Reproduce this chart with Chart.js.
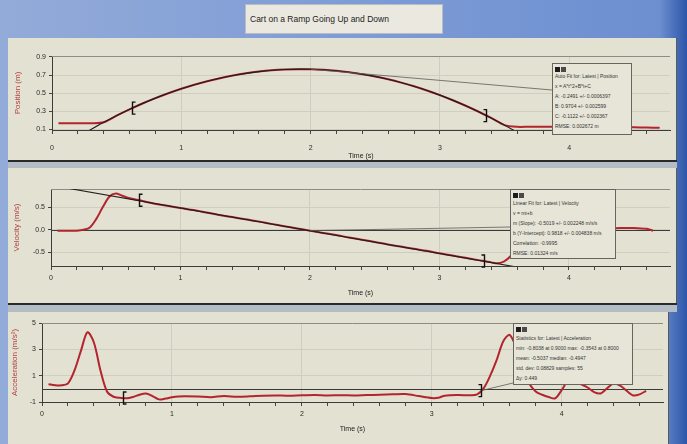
<!DOCTYPE html>
<html>
<head>
<meta charset="utf-8">
<script src="https://cdn.jsdelivr.net/npm/chart.js@4.4.1/dist/chart.umd.min.js"></script>
<style>
  body { margin: 0; width: 687px; height: 444px; overflow: hidden; position: relative;
         background: linear-gradient(90deg, #93abd8 0%, #7e9cd6 50%, #6d8fd0 96%, #2d56a8 100%);
         font-family: "Liberation Sans", Arial, sans-serif; }
  .title { position: absolute; left: 245px; top: 4px; width: 198px; height: 30px; box-sizing: border-box;
           background: #ebe9df; border: 1px solid #b9bcc4; font-size: 8.5px; color: #222;
           padding-left: 4px; line-height: 28px; white-space: nowrap; }
  .panel { position: absolute; left: 8px; background: #e3e1d1; border-right: 1px solid #5a5a58; }
  .panel canvas { position: absolute; left: 0; top: 0; }
  .rule { position: absolute; left: 8px; height: 2px; background: #2a2a2a; }
  .gap { position: absolute; left: 8px; background: #b4bcc6; }
  .box { position: absolute; box-sizing: border-box; background: #e7e5d8; border: 1px solid #66665f;
         font-size: 5px; line-height: 10px; color: #333; padding-left: 2px; white-space: nowrap; z-index: 5; }
  .box .ic { position: absolute; left: 2px; top: 1px; }
  .box .ic i, .box .ic b { display: inline-block; width: 5px; height: 5px; margin-right: 1px; }
  .box .ic i { background: #1c1c1c; }
  .box .ic b { background: #4a4a4a; }
</style>
</head>
<body>
<div class="title">Cart on a Ramp Going Up and Down</div>

<div class="panel" style="top:38px;width:668px;height:122px"><canvas id="posChart" width="668" height="122"></canvas></div>
<div class="rule" style="top:160px;width:669px"></div>
<div class="gap" style="top:162px;height:6px;width:669px"></div>

<div class="panel" style="top:168px;width:668px;height:135px"><canvas id="velChart" width="668" height="135"></canvas></div>
<div class="rule" style="top:303px;width:669px"></div>
<div class="gap" style="top:305px;height:7px;width:669px"></div>

<div class="panel" style="top:312px;width:660px;height:132px"><canvas id="accChart" width="660" height="132"></canvas></div>

<div class="box" id="fitPos" style="left:552px;top:63px;width:80px;height:72px;padding-top:7px">
  <div class="ic"><i></i><b></b></div>
  <div>Auto Fit for: Latest | Position</div>
  <div>x = A*t^2+B*t+C</div>
  <div>A: -0.2491 +/- 0.0006397</div>
  <div>B: 0.9704 +/- 0.002599</div>
  <div>C: -0.1122 +/- 0.002367</div>
  <div>RMSE: 0.002672 m</div>
</div>

<div class="box" id="fitVel" style="left:510px;top:189px;width:106px;height:70px;padding-top:8px">
  <div class="ic"><i></i><b></b></div>
  <div>Linear Fit for: Latest | Velocity</div>
  <div>v = mt+b</div>
  <div>m (Slope): -0.5019 +/- 0.002248 m/s/s</div>
  <div>b (Y-Intercept): 0.9818 +/- 0.004838 m/s</div>
  <div>Correlation: -0.9995</div>
  <div>RMSE: 0.01324 m/s</div>
</div>

<div class="box" id="statAcc" style="left:513px;top:323px;width:120px;height:62px;padding-top:9px">
  <div class="ic"><i></i><b></b></div>
  <div>Statistics for: Latest | Acceleration</div>
  <div>min: -0.8038 at 0.9000 max: -0.3543 at 0.8000</div>
  <div>mean: -0.5037 median: -0.4947</div>
  <div>std. dev: 0.08829 samples: 55</div>
  <div>Δy: 0.449</div>
</div>

<script>
// time axis: minor ticks every 0.2 s, labels on whole seconds
const timeTicks = [0, 0.2, 0.4, 0.6, 0.8, 1, 1.2, 1.4, 1.6, 1.8, 2, 2.2, 2.4, 2.6, 2.8, 3, 3.2, 3.4, 3.6, 3.8, 4, 4.2, 4.4, 4.6];
const timeLabels = [0, 1, 2, 3, 4];

// Position (m)
const posTime = [0.05, 0.1, 0.2, 0.3, 0.4, 0.5, 0.6, 0.7, 0.8, 0.9, 1.0, 1.1, 1.2, 1.3, 1.4, 1.5, 1.6, 1.7, 1.8, 1.9,
                 2.0, 2.1, 2.2, 2.3, 2.4, 2.5, 2.6, 2.7, 2.8, 2.9, 3.0, 3.1, 3.2, 3.3, 3.4, 3.5, 3.6, 3.7, 3.8, 3.9,
                 4.0, 4.1, 4.2, 4.3, 4.4, 4.5, 4.6, 4.7];
const posValue = [0.17, 0.17, 0.17, 0.17, 0.18, 0.254, 0.323, 0.387, 0.446, 0.500, 0.549, 0.593, 0.632, 0.666, 0.695, 0.719, 0.738, 0.752, 0.761, 0.765,
                  0.764, 0.758, 0.747, 0.731, 0.710, 0.684, 0.653, 0.617, 0.576, 0.530, 0.479, 0.423, 0.362, 0.296, 0.225, 0.149, 0.13, 0.132, 0.13, 0.131,
                  0.13, 0.129, 0.13, 0.128, 0.127, 0.125, 0.122, 0.12];
const posFitTime = [0.2, 0.4, 0.6, 0.8, 1.0, 1.2, 1.4, 1.6, 1.8, 2.0, 2.2, 2.4, 2.6, 2.8, 3.0, 3.2, 3.4, 3.6, 3.8];
const posFitValue = [0.017, 0.18, 0.323, 0.446, 0.549, 0.632, 0.695, 0.738, 0.761, 0.764, 0.747, 0.710, 0.653, 0.576, 0.479, 0.362, 0.225, 0.068, -0.109];
const posTicks = [0.1, 0.3, 0.5, 0.7, 0.9];
const posFitRange = [0.62, 3.36];

// Velocity (m/s)
const velTime = [0.05, 0.1, 0.15, 0.2, 0.25, 0.3, 0.35, 0.4, 0.45, 0.5, 0.55, 0.6, 0.7, 0.8, 0.9, 1.0, 1.1, 1.2, 1.3, 1.4,
                 1.5, 1.6, 1.7, 1.8, 1.9, 2.0, 2.1, 2.2, 2.3, 2.4, 2.5, 2.6, 2.7, 2.8, 2.9, 3.0, 3.1, 3.2, 3.3, 3.4,
                 3.45, 3.5, 3.55, 3.6, 3.7, 3.8, 3.9, 4.0, 4.1, 4.2, 4.3, 4.4, 4.5, 4.6, 4.65];
const velValue = [-0.02, -0.02, -0.02, -0.02, 0.0, 0.05, 0.24, 0.50, 0.73, 0.80, 0.75, 0.70, 0.64, 0.575, 0.53, 0.48, 0.435, 0.38, 0.325, 0.28,
                  0.23, 0.185, 0.13, 0.08, 0.03, -0.02, -0.07, -0.115, -0.17, -0.22, -0.27, -0.325, -0.37, -0.42, -0.465, -0.52, -0.57, -0.62, -0.67, -0.72,
                  -0.74, -0.70, -0.58, -0.40, -0.10, 0.01, 0.02, 0.03, 0.02, 0.03, 0.03, 0.04, 0.04, 0.02, -0.02];
const velFitTime = [0, 4.78];
const velFitValue = [0.9818, -1.4173];
const velTicks = [-0.5, 0, 0.5];
const velFitRange = [0.68, 3.34];

// Acceleration (m/s²)
const accTime = [0.05, 0.1, 0.15, 0.2, 0.25, 0.3, 0.35, 0.4, 0.45, 0.5, 0.55, 0.6, 0.65, 0.7, 0.75, 0.8, 0.85, 0.9, 0.95, 1.0,
                 1.05, 1.1, 1.2, 1.3, 1.4, 1.5, 1.6, 1.7, 1.8, 1.9, 2.0, 2.1, 2.2, 2.3, 2.4, 2.5, 2.6, 2.7, 2.8, 2.9,
                 3.0, 3.05, 3.1, 3.2, 3.3, 3.35, 3.4, 3.45, 3.5, 3.55, 3.6, 3.65, 3.7, 3.75, 3.8, 3.85, 3.9, 3.95, 4.0, 4.05,
                 4.1, 4.15, 4.2, 4.25, 4.3, 4.35, 4.4, 4.45, 4.5, 4.55, 4.6, 4.65];
const accValue = [0.35, 0.28, 0.27, 0.42, 1.4, 2.9, 4.3, 3.5, 1.4, -0.2, -0.6, -0.68, -0.72, -0.62, -0.45, -0.36, -0.55, -0.8, -0.74, -0.64,
                  -0.58, -0.56, -0.58, -0.63, -0.55, -0.6, -0.57, -0.52, -0.5, -0.53, -0.49, -0.47, -0.5, -0.48, -0.5, -0.47, -0.45, -0.42, -0.4, -0.55,
                  -0.7, -0.68, -0.52, -0.47, -0.49, -0.42, 0.05, 1.0, 2.2, 3.6, 4.1, 3.1, 1.6, 0.4, -0.2, -0.45, -0.62, -0.72, -0.1, 0.6,
                  0.5, 0.35, 0.1, -0.25, -0.35, 0.05, 0.4, 0.25, -0.15, -0.5, -0.42, -0.15];
const accTicks = [-1, 1, 3, 5];
const accStatRange = [0.62, 3.38];

const RED = '#b3242e';
Chart.defaults.font.family = '"Liberation Sans", Arial, sans-serif';
Chart.defaults.color = '#2a2a2a';

function pairs(xs, ys) {
  return xs.map((x, i) => ({ x: x, y: ys[i] }));
}

// value of a series at time t (used to hang brackets / leader lines on the curve)
function valueAt(xs, ys, t) {
  for (let i = 1; i < xs.length; i++) {
    if (xs[i] >= t) {
      const f = (t - xs[i - 1]) / (xs[i] - xs[i - 1]);
      return ys[i - 1] + f * (ys[i] - ys[i - 1]);
    }
  }
  return ys[ys.length - 1];
}

// plot frame, zero line, region brackets and the leader line to the info box
const decor = {
  id: 'decor',
  beforeDatasetsDraw(chart, args, o) {
    const { ctx, chartArea: a, scales } = chart;
    ctx.save();
    ctx.strokeStyle = '#8e8c82';
    ctx.lineWidth = 1;
    ctx.beginPath();
    ctx.moveTo(a.left, a.top + 0.5);
    ctx.lineTo(a.right, a.top + 0.5);
    ctx.stroke();
    if (o.zeroLine) {
      const zy = Math.round(scales.y.getPixelForValue(0)) + 0.5;
      ctx.strokeStyle = '#3a3a3a';
      ctx.lineWidth = 1.2;
      ctx.beginPath();
      ctx.moveTo(a.left, zy);
      ctx.lineTo(a.right, zy);
      ctx.stroke();
    }
    ctx.restore();
  },
  afterDatasetsDraw(chart, args, o) {
    const { ctx, scales: { x, y } } = chart;
    ctx.save();
    if (o.leader) {
      const box = document.getElementById(o.leader.box).getBoundingClientRect();
      const c = chart.canvas.getBoundingClientRect();
      ctx.strokeStyle = '#5c5c58';
      ctx.lineWidth = 0.8;
      ctx.beginPath();
      ctx.moveTo(x.getPixelForValue(o.leader.t), y.getPixelForValue(valueAt(o.xs, o.ys, o.leader.t)));
      ctx.lineTo(box.left - c.left, box.top - c.top + o.leader.dy);
      ctx.stroke();
    }
    ctx.strokeStyle = '#111';
    ctx.lineWidth = 1.4;
    o.brackets.forEach((t, i) => {
      const px = Math.round(x.getPixelForValue(t)) + 0.5;
      const py = y.getPixelForValue(valueAt(o.xs, o.ys, t));
      const d = i === 0 ? 3 : -3;
      ctx.beginPath();
      ctx.moveTo(px + d, py - 6);
      ctx.lineTo(px, py - 6);
      ctx.lineTo(px, py + 6);
      ctx.lineTo(px + d, py + 6);
      ctx.stroke();
    });
    ctx.restore();
  }
};

function makeChart(id, p) {
  const datasets = [{
    data: pairs(p.xs, p.ys),
    borderColor: RED,
    borderWidth: 2,
    tension: 0.3,
    order: 1
  }];
  if (p.fitX) {
    datasets.push({
      data: pairs(p.fitX, p.fitY),
      borderColor: '#1e1e1e',
      borderWidth: 1.1,
      tension: p.fitTension,
      order: 0
    });
  }
  return new Chart(document.getElementById(id), {
    type: 'line',
    data: { datasets: datasets },
    options: {
      responsive: false,
      animation: false,
      events: [],
      layout: { padding: { top: p.top, right: p.right, left: 0, bottom: 0 } },
      elements: { point: { radius: 0 } },
      plugins: {
        legend: { display: false },
        tooltip: { enabled: false },
        decor: { xs: p.xs, ys: p.ys, brackets: p.brackets, zeroLine: p.zeroLine, leader: p.leader }
      },
      scales: {
        x: {
          type: 'linear', min: 0, max: 4.78,
          afterBuildTicks: s => { s.ticks = timeTicks.map(v => ({ value: v })); },
          afterFit: s => { s.height = p.xH; },
          border: { color: '#3c3c3c', width: 1 },
          grid: {
            color: c => timeLabels.includes(c.tick.value) ? '#cfcdc0' : 'rgba(0,0,0,0)',
            tickColor: '#444', tickLength: 4
          },
          ticks: {
            autoSkip: false, maxRotation: 0, padding: p.xPad, font: { size: 7 },
            callback: v => timeLabels.includes(v) ? String(v) : ''
          },
          title: { display: true, text: 'Time (s)', font: { size: 7 }, color: '#222', padding: { top: 0, bottom: p.titlePad } }
        },
        y: {
          type: 'linear', min: p.min, max: p.max,
          afterBuildTicks: s => { s.ticks = p.yTicks.map(v => ({ value: v })); },
          afterFit: s => { s.width = p.yW; },
          border: { color: '#3c3c3c', width: 1 },
          grid: { color: '#d0cec1', tickColor: '#444', tickLength: 3 },
          ticks: { padding: 3, font: { size: 7 }, callback: p.fmt },
          title: { display: true, text: p.yTitle, font: { size: 8 }, color: '#b34040', padding: { top: p.yTitlePad, bottom: 0 } }
        }
      }
    },
    plugins: [decor]
  });
}

makeChart('posChart', {
  xs: posTime, ys: posValue, fitX: posFitTime, fitY: posFitValue, fitTension: 0.3,
  min: 0.095, max: 0.91, yTicks: posTicks, fmt: v => v.toFixed(1),
  yTitle: 'Position (m)', yTitlePad: 5, yW: 44, xH: 30, top: 18, right: 6, xPad: 10, titlePad: 0,
  brackets: posFitRange, zeroLine: false,
  leader: { box: 'fitPos', t: 2.0, dy: 27 }
});

makeChart('velChart', {
  xs: velTime, ys: velValue, fitX: velFitTime, fitY: velFitValue, fitTension: 0,
  min: -0.8, max: 0.9, yTicks: velTicks, fmt: v => v.toFixed(1),
  yTitle: 'Velocity (m/s)', yTitlePad: 4, yW: 43, xH: 37, top: 21, right: 6, xPad: 4, titlePad: 6,
  brackets: velFitRange, zeroLine: true,
  leader: { box: 'fitVel', t: 2.0, dy: 38 }
});

makeChart('accChart', {
  xs: accTime, ys: accValue,
  min: -1, max: 5, yTicks: accTicks, fmt: v => String(v),
  yTitle: 'Acceleration (m/s²)', yTitlePad: 2, yW: 34, xH: 42, top: 11, right: 5, xPad: 4, titlePad: 11,
  brackets: accStatRange, zeroLine: true,
  leader: { box: 'statAcc', t: 3.38, dy: 60 }
});
</script>
</body>
</html>
